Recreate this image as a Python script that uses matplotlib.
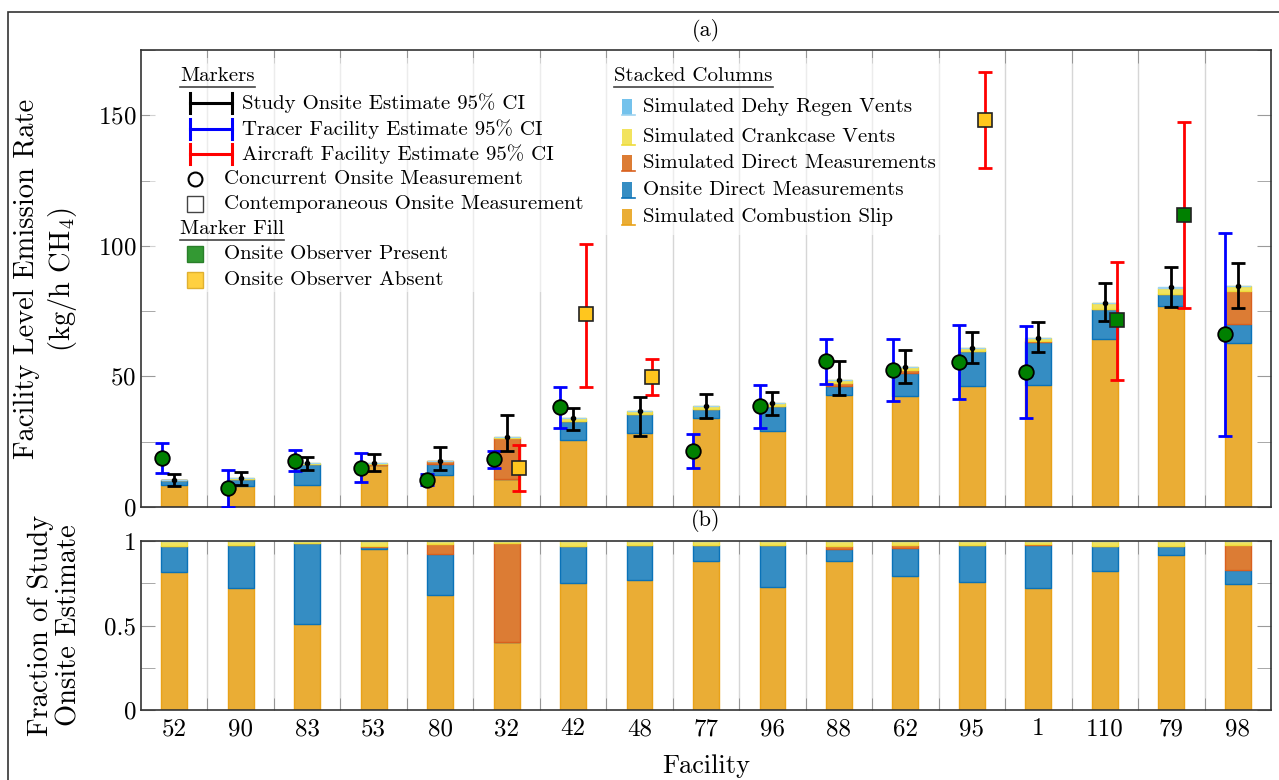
import numpy as np
import matplotlib
matplotlib.use("Agg")
import matplotlib.pyplot as plt
from matplotlib.patches import Rectangle
from matplotlib.lines import Line2D

plt.rcParams['font.family'] = 'cmr10'
plt.rcParams['mathtext.fontset'] = 'cm'
plt.rcParams['axes.formatter.use_mathtext'] = True

# ---------------- data ----------------
facilities = ['52', '90', '83', '53', '80', '32', '42', '48', '77', '96',
              '88', '62', '95', '1', '110', '79', '98']

# stacked components (kg/h CH4)
combustion_slip = [8.6, 7.95, 8.5, 15.95, 12.1, 10.8, 25.5, 28.3, 34.2, 28.95,
                   42.8, 42.45, 46.25, 46.85, 64.2, 77.1, 62.9]
onsite_direct = [1.6, 2.78, 8.06, 0.27, 4.33, 0.0, 7.45, 7.5, 3.5, 9.8,
                 3.65, 9.0, 13.3, 16.4, 11.7, 4.65, 7.15]
sim_direct = [0.0, 0.0, 0.0, 0.07, 1.0, 15.7, 0.0, 0.0, 0.0, 0.0,
              0.88, 0.85, 0.0, 0.25, 0.0, 0.0, 12.7]
crankcase = [0.3, 0.27, 0.24, 0.5, 0.36, 0.27, 0.95, 0.9, 1.0, 0.95,
             1.35, 1.3, 1.45, 1.3, 2.1, 2.25, 1.85]
dehy_regen = [0.0, 0.0, 0.0, 0.0, 0.0, 0.0, 0.0, 0.0, 0.0, 0.0,
              0.0, 0.0, 0.0, 0.0, 0.1, 0.1, 0.0]

# study onsite estimate and 95% CI
study_est = [10.5, 11.0, 16.8, 16.8, 17.8, 26.8, 33.9, 36.7, 38.7, 39.7,
             48.7, 53.6, 61.0, 64.8, 78.1, 84.1, 84.6]
study_lo = [8.0, 8.6, 14.1, 13.8, 14.2, 21.3, 29.6, 27.3, 34.0, 35.4,
            42.7, 47.4, 55.1, 59.2, 71.3, 76.7, 76.3]
study_hi = [12.8, 13.5, 19.2, 20.2, 23.1, 35.4, 38.1, 42.3, 43.3, 44.2,
            55.8, 60.0, 67.0, 70.7, 85.6, 91.8, 93.6]

# tracer facility estimate (concurrent, observer present)
tracer_est = [18.7, 7.2, 17.7, 14.9, 10.5, 18.3, 38.2, np.nan, 21.5, 38.8,
              55.9, 52.6, 55.5, 51.7, np.nan, np.nan, 66.2]
tracer_lo = [13.2, 0.1, 13.6, 9.6, 8.3, 14.8, 30.4, np.nan, 15.1, 30.1,
             47.2, 40.4, 41.2, 34.1, np.nan, np.nan, 27.3]
tracer_hi = [24.5, 14.2, 21.8, 20.5, 12.8, 21.4, 45.9, np.nan, 28.0, 46.9,
             64.5, 64.5, 69.6, 69.2, np.nan, np.nan, 105.1]

# aircraft facility estimate (contemporaneous)
aircraft_est = [np.nan, np.nan, np.nan, np.nan, np.nan, 15.1, 73.8, 49.7, np.nan, np.nan,
                np.nan, np.nan, 148.2, np.nan, 71.5, 111.9, np.nan]
aircraft_lo = [np.nan, np.nan, np.nan, np.nan, np.nan, 6.2, 46.0, 42.7, np.nan, np.nan,
               np.nan, np.nan, 129.9, np.nan, 48.7, 76.2, np.nan]
aircraft_hi = [np.nan, np.nan, np.nan, np.nan, np.nan, 23.8, 100.8, 56.7, np.nan, np.nan,
               np.nan, np.nan, 166.5, np.nan, 94.0, 147.3, np.nan]
aircraft_observer = ['', '', '', '', '', 'absent', 'absent', 'absent', '', '',
                     '', '', 'absent', '', 'present', 'present', '']

# ---------------- styling ----------------
C_COMB = ('#EAAD35', '#E9A218')
C_ONS = ('#358DC3', '#0A72B8')
C_SIMD = ('#DC7C34', '#D9601E')
C_CRANK = ('#F2E35E', '#EEDB3A')
C_DEHY = ('#74C2EC', '#9ED3F0')
GREEN = '#008000'
YELLOW = '#FFC61E'

W, H = 1279, 780
fig = plt.figure(figsize=(W / 100, H / 100), dpi=100)

def fx(px):
    return px / W

def fy(py):
    return 1 - py / H

axL, axR = 141, 1271
ax1 = fig.add_axes([fx(axL), fy(507), fx(axR - axL), (507 - 50) / H])
ax2 = fig.add_axes([fx(axL), fy(710), fx(axR - axL), (710 - 541) / H])

x = np.arange(len(facilities))
bw = 0.39
off = 0.19

stacks = [(combustion_slip, C_COMB, 'Simulated Combustion Slip'),
          (onsite_direct, C_ONS, 'Onsite Direct Measurements'),
          (sim_direct, C_SIMD, 'Simulated Direct Measurements'),
          (crankcase, C_CRANK, 'Simulated Crankcase Vents'),
          (dehy_regen, C_DEHY, 'Simulated Dehy Regen Vents')]

total = np.sum([np.array(s[0]) for s in stacks], axis=0)

for ax, frac in ((ax1, False), (ax2, True)):
    bottom = np.zeros(len(x))
    for vals, (fc, ec), lab in stacks:
        v = np.array(vals, dtype=float)
        if frac:
            v = v / total
        ax.bar(x, v, bw, bottom=bottom, color=fc, edgecolor=ec, linewidth=1.0, zorder=2)
        bottom = bottom + v

# error bars - top panel
se = np.array(study_est)
ax1.errorbar(x, se, yerr=[se - np.array(study_lo), np.array(study_hi) - se],
             fmt='o', ms=3, color='k', ecolor='k', elinewidth=2.0,
             capsize=5, capthick=2.0, zorder=5)

te = np.array(tracer_est)
ax1.errorbar(x - off, te, yerr=[te - np.array(tracer_lo), np.array(tracer_hi) - te],
             fmt='none', ecolor='#0000FF', elinewidth=2.0, capsize=5, capthick=2.0, zorder=4)
ax1.plot(x - off, te, 'o', ms=10.5, mfc=GREEN, mec='k', mew=1.3, zorder=6, ls='none')

ae = np.array(aircraft_est)
ax1.errorbar(x + off, ae, yerr=[ae - np.array(aircraft_lo), np.array(aircraft_hi) - ae],
             fmt='none', ecolor='#FF0000', elinewidth=2.0, capsize=5, capthick=2.0, zorder=4)
fills = [GREEN if o == 'present' else YELLOW for o in aircraft_observer]
for xi, yi, fcol in zip(x + off, ae, fills):
    if not np.isnan(yi):
        ax1.plot([xi], [yi], 's', ms=10, mfc=fcol, mec='#222222', mew=1.2, zorder=6)

# axes formatting
for ax in (ax1, ax2):
    ax.set_xlim(-0.5, len(x) - 0.5)
    ax.set_xticks(x)
    ax.set_xticks(x[:-1] + 0.5, minor=True)
    ax.grid(True, which='minor', axis='x', color='#d6d6d6', lw=1.0, zorder=0)
    ax.tick_params(axis='x', which='major', length=0)
    ax.tick_params(axis='x', which='minor', direction='in', length=9, color='#8a8a8a',
                   top=True, bottom=True)
    ax.tick_params(axis='y', which='both', direction='in', length=10, color='#9a9a9a',
                   left=True, right=True, labelsize=18)
    for sp in ax.spines.values():
        sp.set_color('#333333')
        sp.set_linewidth(1.2)
    ax.set_axisbelow(True)

ax1.set_ylim(0, 175)
ax1.set_yticks([0, 50, 100, 150])
ax1.set_yticks([25, 75, 125, 175], minor=True)
ax1.set_xticklabels([])

ax2.set_ylim(0, 1)
ax2.set_yticks([0, 0.5, 1])
ax2.set_yticklabels(['0', '0.5', '1'])
ax2.set_yticks([0.25, 0.75], minor=True)
ax2.set_xticklabels(facilities, fontsize=18)
ax2.tick_params(axis='x', which='major', pad=6)

fig.text(fx(706), fy(30), '(a)', ha='center', va='center', fontsize=16)
fig.text(fx(706), fy(520), '(b)', ha='center', va='center', fontsize=16)
fig.text(fx(706), fy(766), 'Facility', ha='center', va='center', fontsize=19)
fig.text(fx(46), fy(279), 'Facility Level Emission Rate\n(kg/h CH$_4$)', rotation=90,
         ha='center', va='center', fontsize=20.5, multialignment='center', linespacing=1.25)
fig.text(fx(55), fy(625), 'Fraction of Study\nOnsite Estimate', rotation=90,
         ha='center', va='center', fontsize=20.5, multialignment='center', linespacing=1.15)

# outer frame
fig.patches.append(Rectangle((fx(8), fy(12) - 1.2), 1.5, 1.2, transform=fig.transFigure,
                             fill=False, ec='#333333', lw=1.2, clip_on=False))

# ---------------- legends (axes-fraction coordinates) ----------------
def ax_x(px):
    return (px - axL) / (axR - axL)

def ax_y(py):
    return (507 - py) / (507 - 50)

T = ax1.transAxes
LFS = 15
ax1.add_patch(Rectangle((ax_x(150), ax_y(292)), ax_x(596) - ax_x(150), ax_y(58) - ax_y(292),
                        transform=T, fc='white', ec='none', alpha=0.55, zorder=1))
ax1.add_patch(Rectangle((ax_x(603), ax_y(235)), ax_x(946) - ax_x(603), ax_y(58) - ax_y(235),
                        transform=T, fc='white', ec='none', alpha=0.55, zorder=1))

headers = []
headers.append(ax1.text(ax_x(180), ax_y(76), 'Markers', transform=T, fontsize=LFS,
                        va='center', ha='left', zorder=9))
headers.append(ax1.text(ax_x(180), ax_y(229), 'Marker Fill', transform=T, fontsize=LFS,
                        va='center', ha='left', zorder=9))
headers.append(ax1.text(ax_x(614), ax_y(76), 'Stacked Columns', transform=T, fontsize=LFS,
                        va='center', ha='left', zorder=9))

err_entries = [('k', 'Study Onsite Estimate 95% CI', 103),
               ('#0000FF', 'Tracer Facility Estimate 95% CI', 129),
               ('#FF0000', 'Aircraft Facility Estimate 95% CI', 154)]
for col, lab, py in err_entries:
    x0, x1 = ax_x(190), ax_x(232)
    ax1.add_line(Line2D([x0, x1], [ax_y(py)] * 2, color=col, lw=2.2, transform=T, zorder=9))
    for xx in (x0, x1):
        ax1.add_line(Line2D([xx, xx], [ax_y(py + 10), ax_y(py - 10)], color=col, lw=2.2,
                            transform=T, zorder=9))
    ax1.text(ax_x(242), ax_y(py), lab, transform=T, fontsize=LFS, va='center', ha='left', zorder=9)

mk_entries = [('o', 'white', 'k', 'Concurrent Onsite Measurement', 179),
              ('s', 'white', '#444444', 'Contemporaneous Onsite Measurement', 204),
              ('s', '#339933', '#2a7f2a', 'Onsite Observer Present', 254),
              ('s', '#FFD040', '#e0b030', 'Onsite Observer Absent', 280)]
for m, fc, ec, lab, py in mk_entries:
    ax1.add_line(Line2D([ax_x(195)], [ax_y(py)], marker=m, ms=10 if m == 'o' else 11,
                        mfc=fc, mec=ec, mew=1.5 if m == 'o' else 1.0, ls='none',
                        transform=T, zorder=9))
    ax1.text(ax_x(224), ax_y(py), lab, transform=T, fontsize=LFS, va='center', ha='left', zorder=9)

bar_entries = [(C_DEHY, 'Simulated Dehy Regen Vents', 107),
               (C_CRANK, 'Simulated Crankcase Vents', 137),
               (C_SIMD, 'Simulated Direct Measurements', 163),
               (C_ONS, 'Onsite Direct Measurements', 190),
               (C_COMB, 'Simulated Combustion Slip', 217)]
for (fc, ec), lab, py in bar_entries:
    ax1.add_patch(Rectangle((ax_x(622), ax_y(py + 8)), ax_x(632) - ax_x(622), ax_y(py - 8) - ax_y(py + 8),
                            transform=T, fc=fc, ec='none', zorder=9))
    ax1.add_line(Line2D([ax_x(622), ax_x(635)], [ax_y(py + 8)] * 2, color=ec, lw=1.2,
                        transform=T, zorder=9))
    ax1.text(ax_x(643), ax_y(py), lab, transform=T, fontsize=LFS, va='center', ha='left', zorder=9)

# underline the headers
fig.canvas.draw()
inv = T.inverted()
for t in headers:
    bb = t.get_window_extent()
    (ux0, uy0), (ux1, _) = inv.transform([(bb.x0, bb.y0), (bb.x1, bb.y0)])
    ax1.add_line(Line2D([ux0, ux1], [uy0 - 0.004] * 2, color='#444444', lw=1.2,
                        transform=T, zorder=9))

fig.savefig('out.png', dpi=100)
